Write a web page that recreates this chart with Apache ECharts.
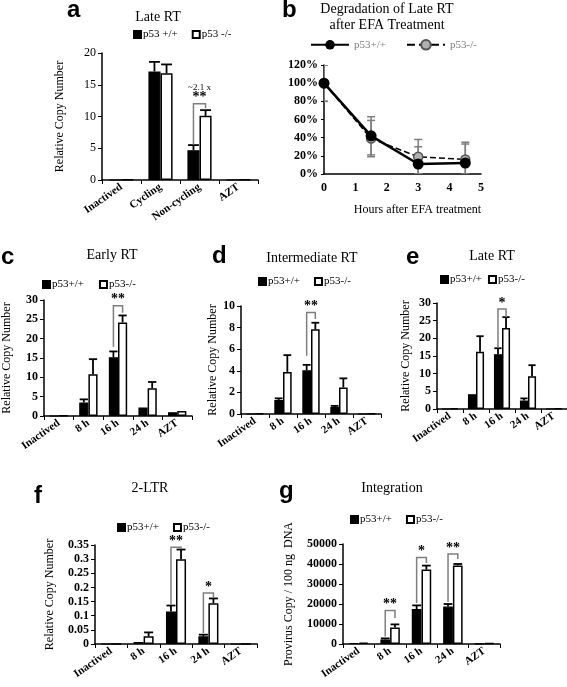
<!DOCTYPE html>
<html><head><meta charset="utf-8">
<script src="https://cdn.jsdelivr.net/npm/echarts@6/dist/echarts.min.js"></script>
<style>
html,body{margin:0;padding:0;background:#fff;}
#wrap{position:relative;width:567px;height:687px;overflow:hidden;background:#fff;}
.pn{position:absolute;left:0;top:0;width:567px;height:687px;}
</style></head><body>
<div id="wrap">
<div class="pn" id="pa"></div><div class="pn" id="pb"></div><div class="pn" id="pc"></div>
<div class="pn" id="pd"></div><div class="pn" id="pe"></div><div class="pn" id="pf"></div>
<div class="pn" id="pg"></div>
</div>
<script>
// ---------- DATA ----------
const catsA = ['Inactived', 'Cycling', 'Non-cycling', 'AZT'];
const catsT = ['Inactived', '8 h', '16 h', '24 h', 'AZT'];
const namesA = ['p53 +/+', 'p53 -/-'];
const namesT = ['p53+/+', 'p53-/-'];

// a  Late RT
const aTicks = [0, 5, 10, 15, 20];
const aWT = [0, 17.1, 4.7, 0];
const aWTErr = [0, 1.5, 0.8, 0];
const aKO = [0.08, 16.8, 10.1, 0.08];
const aKOErr = [0, 1.4, 0.9, 0];
const aBrackets = [[2, 5.6, 11.3, 12.0]];
const aBracketText = ['**'];
const aNotes = [[2, 14.6]];
const aNoteText = ['~2.1 x'];

// b  Degradation of Late RT after EFA treatment
const bTicksY = [0, 0.2, 0.4, 0.6, 0.8, 1.0, 1.2];
const bTicksX = [0, 1, 2, 3, 4, 5];
const bHours = [0, 1.5, 3, 4.5];
const bWT = [1.00, 0.42, 0.11, 0.12];
const bWTErr = [0.20, 0.21, 0.19, 0.21];
const bKO = [1.00, 0.39, 0.19, 0.16];
const bKOErr = [0.20, 0.20, 0.19, 0.19];

// c  Early RT
const cTicks = [0, 5, 10, 15, 20, 25, 30];
const cWT = [0, 3.5, 15.2, 2.2, 1.0];
const cWTErr = [0, 0.8, 1.5, 0, 0];
const cKO = [0.1, 10.8, 24.2, 7.2, 1.3];
const cKOErr = [0, 3.9, 1.8, 1.6, 0];
const cBrackets = [[2, 17.9, 26.7, 28.5]];
const cBracketText = ['**'];

// d  Intermediate RT
const dTicks = [0, 2, 4, 6, 8, 10];
const dWT = [0, 1.3, 4.05, 0.65, 0];
const dWTErr = [0, 0.15, 0.5, 0.1, 0];
const dKO = [0.03, 3.9, 7.85, 2.45, 0.03];
const dKOErr = [0, 1.55, 0.6, 0.85, 0];
const dBrackets = [[2, 5.4, 8.8, 9.4]];
const dBracketText = ['**'];

// e  Late RT
const eTicks = [0, 5, 10, 15, 20, 25, 30];
const eWT = [0, 4.2, 15.5, 2.4, 0];
const eWTErr = [0, 0, 1.7, 0.6, 0];
const eKO = [0.15, 16.2, 22.9, 9.3, 0.15];
const eKOErr = [0, 4.4, 3.1, 3.1, 0];
const eBrackets = [[2, 17.4, 26.0, 28.3]];
const eBracketText = ['*'];

// f  2-LTR
const fTicks = [0, 0.05, 0.1, 0.15, 0.2, 0.25, 0.3, 0.35];
const fWT = [0, 0.007, 0.115, 0.027, 0];
const fWTErr = [0, 0, 0.021, 0.006, 0];
const fKO = [0, 0.027, 0.300, 0.144, 0];
const fKOErr = [0, 0.014, 0.034, 0.017, 0];
const fBrackets = [[2, 0.14, 0.335, 0.342], [3, 0.039, 0.163, 0.18]];
const fBracketText = ['**', '*'];

// g  Integration
const gTicks = [0, 10000, 20000, 30000, 40000, 50000];
const gWT = [500, 2300, 17500, 18700, 200];
const gWTErr = [0, 500, 1800, 1300, 0];
const gKO = [700, 8300, 37200, 39300, 400];
const gKOErr = [0, 1500, 2000, 700, 0];
const gBrackets = [[1, 3800, 13000, 16800], [2, 20500, 40500, 43300], [3, 21000, 42500, 45000]];
const gBracketText = ['**', '*', '**'];

// ---------- STYLE ----------
const SERIF = '"Liberation Serif","Times New Roman",serif';
const SANS = '"Liberation Sans",Arial,sans-serif';
const GAP = 0.38;
const GRAY = '#7f7f7f';

function errItem(side, color) {
  return function (params, api) {
    const e = api.value(2);
    if (!e) return null;
    const i = api.value(0), v = api.value(1);
    const band = api.size([1, 0])[0];
    const bw = band * (1 - GAP) / 2;
    const p0 = api.coord([i, v]), p1 = api.coord([i, v + e]);
    const x = p0[0] + side * bw / 2, h = bw * 0.45;
    return {
      type: 'group', children: [
        { type: 'line', shape: { x1: x, y1: p0[1], x2: x, y2: p1[1] }, style: { stroke: color, lineWidth: 1.8 } },
        { type: 'line', shape: { x1: x - h, y1: p1[1], x2: x + h, y2: p1[1] }, style: { stroke: color, lineWidth: 1.8 } }
      ]
    };
  };
}

function bracketItem(labels) {
  return function (params, api) {
    const i = api.value(0), yl = api.value(1), yr = api.value(2), yt = api.value(3);
    const band = api.size([1, 0])[0];
    const bw = band * (1 - GAP) / 2;
    const c = api.coord([i, yt]);
    const xl = c[0] - bw / 2, xr = c[0] + bw / 2;
    const pl = api.coord([i, yl])[1], pr = api.coord([i, yr])[1];
    return {
      type: 'group', children: [
        { type: 'polyline', shape: { points: [[xl, pl], [xl, c[1]], [xr, c[1]], [xr, pr]] }, style: { stroke: GRAY, lineWidth: 1.5, fill: null } },
        { type: 'text', x: c[0], y: c[1] + 1, style: { text: labels[params.dataIndex], align: 'center', verticalAlign: 'bottom', font: 'bold 14px ' + SERIF, fill: '#000' } }
      ]
    };
  };
}

function noteItem(labels) {
  return function (params, api) {
    const p = api.coord([api.value(0), api.value(1)]);
    return { type: 'text', x: p[0], y: p[1], style: { text: labels[params.dataIndex], align: 'center', verticalAlign: 'middle', font: '9px ' + SERIF, fill: '#000' } };
  };
}

function rowsErr(vals, errs) { return vals.map((v, i) => [i, v, errs[i]]); }

function textEl(t, x, y, font, align, valign) {
  return { type: 'text', x: x, y: y, style: { text: t, font: font, fill: '#000', align: align || 'center', verticalAlign: valign || 'middle' } };
}

function barPanel(cfg) {
  const chart = echarts.init(document.getElementById(cfg.id));
  const ticks = cfg.ticks;
  const series = [
    { type: 'bar', name: cfg.names[0], data: cfg.wt, barGap: '0%', barCategoryGap: (GAP * 100) + '%',
      itemStyle: { color: '#000', borderColor: '#000', borderWidth: 1.2 }, z: 2, animation: false },
    { type: 'bar', name: cfg.names[1], data: cfg.ko, barGap: '0%', barCategoryGap: (GAP * 100) + '%',
      itemStyle: { color: '#fff', borderColor: '#000', borderWidth: 1.5 }, z: 2, animation: false },
    { type: 'custom', data: rowsErr(cfg.wt, cfg.wtErr), renderItem: errItem(-1, '#000'), z: 3, silent: true, animation: false },
    { type: 'custom', data: rowsErr(cfg.ko, cfg.koErr), renderItem: errItem(1, '#000'), z: 3, silent: true, animation: false },
    { type: 'custom', data: cfg.brackets, renderItem: bracketItem(cfg.bracketText), z: 4, silent: true, clip: false, animation: false }
  ];
  if (cfg.notes) series.push({ type: 'custom', data: cfg.notes, renderItem: noteItem(cfg.noteText), z: 4, silent: true, clip: false, animation: false });
  chart.setOption({
    animation: false,
    backgroundColor: 'transparent',
    grid: { left: cfg.grid[0], top: cfg.grid[1], width: cfg.grid[2], height: cfg.grid[3], containLabel: false, outerBoundsMode: 'none' },
    legend: {
      data: cfg.names, left: cfg.legend[0], top: cfg.legend[1], itemGap: cfg.legend[2], icon: 'rect',
      itemWidth: 7, itemHeight: 7, padding: 0,
      textStyle: { fontFamily: SERIF, fontSize: 11, color: '#000', padding: [0, 0, 0, -3] }
    },
    xAxis: {
      type: 'category', data: cfg.cats,
      axisLine: { lineStyle: { color: '#000', width: 1.5 } },
      axisTick: { show: true, length: 4, lineStyle: { color: '#000', width: 1 } },
      axisLabel: { interval: 0, rotate: 35, margin: 6, fontFamily: SERIF, fontWeight: 'bold', fontSize: 11, color: '#000' },
      splitLine: { show: false }
    },
    yAxis: {
      type: 'value', min: ticks[0], max: ticks[ticks.length - 1], interval: ticks[1] - ticks[0],
      name: cfg.yName, nameLocation: 'middle', nameRotate: 90, nameGap: cfg.yNameGap,
      nameTextStyle: { fontFamily: SERIF, fontSize: 12, color: '#000' },
      axisLine: { show: true, lineStyle: { color: '#000', width: 1.5 } },
      axisTick: { show: true, length: 4, lineStyle: { color: '#000', width: 1 } },
      axisLabel: { margin: 6, fontFamily: SERIF, fontWeight: cfg.yBold ? 'bold' : 'normal', fontSize: 12, color: '#000',
        formatter: v => String(+v.toFixed(4)) },
      splitLine: { show: false }
    },
    graphic: cfg.graphic,
    series: series
  });
}

// panel a
barPanel({
  id: 'pa', cats: catsA, names: namesA, ticks: aTicks,
  wt: aWT, wtErr: aWTErr, ko: aKO, koErr: aKOErr,
  brackets: aBrackets, bracketText: aBracketText, notes: aNotes, noteText: aNoteText,
  grid: [102, 53, 156, 127], legend: [133, 29, 14], yName: 'Relative Copy Number', yNameGap: 36, yBold: false,
  graphic: [textEl('a', 67, 22, 'bold 24px ' + SANS, 'left', 'bottom'), textEl('Late RT', 158, 17, '14px ' + SERIF)]
});

// panel c
barPanel({
  id: 'pc', cats: catsT, names: namesT, ticks: cTicks,
  wt: cWT, wtErr: cWTErr, ko: cKO, koErr: cKOErr,
  brackets: cBrackets, bracketText: cBracketText,
  grid: [44, 300, 148, 116], legend: [42, 279, 15], yName: 'Relative Copy Number', yNameGap: 31, yBold: true,
  graphic: [textEl('c', 1, 269, 'bold 24px ' + SANS, 'left', 'bottom'), textEl('Early RT', 112, 255, '14px ' + SERIF)]
});

// panel d
barPanel({
  id: 'pd', cats: catsT, names: namesT, ticks: dTicks,
  wt: dWT, wtErr: dWTErr, ko: dKO, koErr: dKOErr,
  brackets: dBrackets, bracketText: dBracketText,
  grid: [241, 306, 140, 108], legend: [258, 276, 14], yName: 'Relative Copy Number', yNameGap: 19, yBold: true,
  graphic: [textEl('d', 212, 268, 'bold 24px ' + SANS, 'left', 'bottom'), textEl('Intermediate RT', 312, 258, '14px ' + SERIF)]
});

// panel e
barPanel({
  id: 'pe', cats: catsT, names: namesT, ticks: eTicks,
  wt: eWT, wtErr: eWTErr, ko: eKO, koErr: eKOErr,
  brackets: eBrackets, bracketText: eBracketText,
  grid: [437, 303, 130, 106], legend: [440, 274, 6], yName: 'Relative Copy Number', yNameGap: 25, yBold: true,
  graphic: [textEl('e', 406, 269, 'bold 24px ' + SANS, 'left', 'bottom'), textEl('Late RT', 492, 256, '14px ' + SERIF)]
});

// panel f
barPanel({
  id: 'pf', cats: catsT, names: namesT, ticks: fTicks,
  wt: fWT, wtErr: fWTErr, ko: fKO, koErr: fKOErr,
  brackets: fBrackets, bracketText: fBracketText,
  grid: [95, 545, 162, 99], legend: [117, 522, 14], yName: 'Relative Copy Number', yNameGap: 39, yBold: true,
  graphic: [textEl('f', 34, 508, 'bold 24px ' + SANS, 'left', 'bottom'), textEl('2-LTR', 150, 488, '14px ' + SERIF)]
});

// panel g
barPanel({
  id: 'pg', cats: catsT, names: namesT, ticks: gTicks,
  wt: gWT, wtErr: gWTErr, ko: gKO, koErr: gKOErr,
  brackets: gBrackets, bracketText: gBracketText,
  grid: [343, 544, 157, 100], legend: [350, 514, 14], yName: 'Provirus Copy / 100 ng  DNA', yNameGap: 48, yBold: true,
  graphic: [textEl('g', 279, 503, 'bold 24px ' + SANS, 'left', 'bottom'), textEl('Integration', 392, 488, '14px ' + SERIF)]
});

// panel b
(function () {
  const chart = echarts.init(document.getElementById('pb'));
  function symErr(color) {
    return function (params, api) {
      const x = api.value(0), y = api.value(1), e = api.value(2);
      const p1 = api.coord([x, y + e]), p2 = api.coord([x, Math.max(0, y - e)]);
      const h = 4;
      return {
        type: 'group', children: [
          { type: 'line', shape: { x1: p1[0], y1: p1[1], x2: p2[0], y2: p2[1] }, style: { stroke: color, lineWidth: 1.5 } },
          { type: 'line', shape: { x1: p1[0] - h, y1: p1[1], x2: p1[0] + h, y2: p1[1] }, style: { stroke: color, lineWidth: 1.5 } },
          { type: 'line', shape: { x1: p2[0] - h, y1: p2[1], x2: p2[0] + h, y2: p2[1] }, style: { stroke: color, lineWidth: 1.5 } }
        ]
      };
    };
  }
  chart.setOption({
    animation: false,
    backgroundColor: 'transparent',
    grid: { left: 324, top: 65, width: 157, height: 109, containLabel: false, outerBoundsMode: 'none' },
    legend: {
      data: namesT, left: 310, top: 39, itemGap: 20, itemWidth: 38, itemHeight: 12, padding: 0,
      textStyle: { fontFamily: SERIF, fontSize: 11, color: '#808080' }
    },
    xAxis: {
      type: 'value', min: bTicksX[0], max: bTicksX[bTicksX.length - 1], interval: bTicksX[1] - bTicksX[0],
      name: 'Hours after EFA treatment', nameLocation: 'middle', nameGap: 30,
      nameTextStyle: { fontFamily: SERIF, fontSize: 12, color: '#000', padding: [0, 0, 0, 30] },
      axisLine: { lineStyle: { color: '#000', width: 1.5 } },
      axisTick: { show: false },
      axisLabel: { margin: 8, fontFamily: SERIF, fontWeight: 'bold', fontSize: 12, color: '#000' },
      splitLine: { show: false }
    },
    yAxis: {
      type: 'value', min: bTicksY[0], max: bTicksY[bTicksY.length - 1], interval: bTicksY[1] - bTicksY[0],
      axisLine: { show: true, lineStyle: { color: '#000', width: 1.5 } },
      axisTick: { show: true, length: 3, lineStyle: { color: '#000' } },
      axisLabel: { margin: 6, fontFamily: SERIF, fontWeight: 'bold', fontSize: 12, color: '#000',
        formatter: v => Math.round(v * 100) + '%' },
      splitLine: { show: false }
    },
    graphic: [
      textEl('b', 282, 22, 'bold 24px ' + SANS, 'left', 'bottom'),
      textEl('Degradation of Late RT', 387, 9, '14px ' + SERIF),
      textEl('after EFA Treatment', 387, 25, '14px ' + SERIF)
    ],
    series: [
      { type: 'custom', data: bHours.map((h, i) => [h, bKO[i], bKOErr[i]]), renderItem: symErr(GRAY), z: 1, silent: true, clip: true },
      { type: 'custom', data: bHours.map((h, i) => [h, bWT[i], bWTErr[i]]), renderItem: symErr(GRAY), z: 1, silent: true, clip: true },
      { type: 'line', name: namesT[1], data: bHours.map((h, i) => [h, bKO[i]]), symbol: 'circle', symbolSize: 9,
        lineStyle: { color: '#000', width: 1.5, type: 'dashed' }, itemStyle: { color: '#b0b0b0', borderColor: '#555', borderWidth: 1.5 }, z: 2 },
      { type: 'line', name: namesT[0], data: bHours.map((h, i) => [h, bWT[i]]), symbol: 'circle', symbolSize: 11,
        lineStyle: { color: '#000', width: 2.5 }, itemStyle: { color: '#000', borderColor: '#000', borderWidth: 0 }, z: 3 }
    ]
  });
})();
</script>
</body></html>
